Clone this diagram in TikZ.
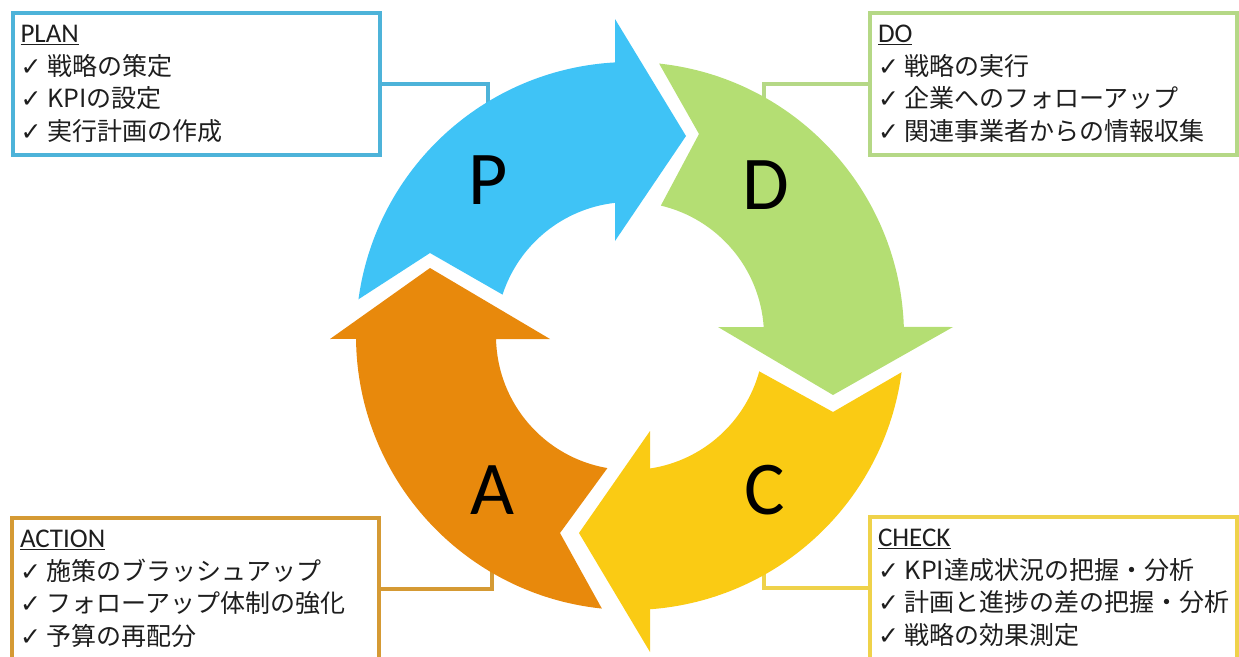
\documentclass[tikz,border=0pt]{standalone}
\usepackage{fontspec}
\setmainfont{Carlito}
\newfontfamily\jpfont{Noto Sans CJK JP}
\newfontfamily\symfont{DejaVu Sans}

\definecolor{pfill}{HTML}{3FC3F6}
\definecolor{dfill}{HTML}{B4DE73}
\definecolor{cfill}{HTML}{FACB14}
\definecolor{afill}{HTML}{E8890C}
\definecolor{planline}{HTML}{4DB3D9}
\definecolor{doline}{HTML}{B5D886}
\definecolor{checkline}{HTML}{EFD24A}
\definecolor{actionline}{HTML}{D59A34}
\definecolor{ink}{HTML}{1E1E1E}

\tikzset{
  box/.style={line width=4pt, fill=white, minimum width=367pt, minimum height=142pt,
    inner sep=0pt, text width=351pt, align=left, text=ink,
    font=\jpfont\fontsize{25}{32.5}\selectfont},
  link/.style={line width=3.5pt},
  letter/.style={font=\fontsize{76}{80}\selectfont, text=black},
}

\newcommand{\ckm}{{\symfont\bfseries\fontsize{25}{25}\selectfont ✓}\kern6pt}
\newcommand{\boxlabel}[1]{{\rmfamily\fontsize{27}{27}\selectfont\underline{#1}}}

\begin{document}
\begin{tikzpicture}[x=1pt, y=1pt]
\useasboundingbox (0,0) rectangle (1239,-656);

% boxes
\node [box, draw=planline] (0) at (196,-84) {\boxlabel{PLAN}\\
\ckm 戦略の策定\\
\ckm KPIの設定\\
\ckm 実行計画の作成};
\node [box, draw=doline] (1) at (1053.5,-84) {\boxlabel{DO}\\
\ckm 戦略の実行\\
\ckm 企業へのフォローアップ\\
\ckm 関連事業者からの情報収集};
\node [box, draw=checkline] (2) at (1053.5,-588) {\boxlabel{CHECK}\\
\ckm KPI達成状況の把握・分析\\
\ckm 計画と進捗の差の把握・分析\\
\ckm 戦略の効果測定};
\node [box, draw=actionline] (3) at (195.5,-589) {\boxlabel{ACTION}\\
\ckm 施策のブラッシュアップ\\
\ckm フォローアップ体制の強化\\
\ckm 予算の再配分};

\node [] (4) at (488,-125) {};
\node [] (5) at (764,-125) {};
\node [] (6) at (764,-545) {};
\node [] (7) at (492,-545) {};

\draw [link, planline] (0.east) -| (4.center);
\draw [link, doline] (1.west) -| (5.center);
\draw [link, checkline] (2.west) -| (6.center);
\draw [link, actionline] (3.east) -| (7.center);

% cycle arrows
\begin{scope}[shift={(630,-336)}]
\fill [pfill] (172.3:274) arc [start angle=172.3, end angle=93.1, radius=274]
  -- (-15,317) -- (56,200) -- (-15,95) -- (96.4:134)
  arc [start angle=96.4, end angle=162, radius=134] -- (-200,83) -- cycle;
\fill [dfill] (83.9:274) arc [start angle=83.9, end angle=1.9, radius=274]
  -- (323,9) -- (203,-59) -- (88,9) -- (3.85:134)
  arc [start angle=3.85, end angle=76.7, radius=134] -- (69,202) -- cycle;
\fill [cfill] (-7.6:274) arc [start angle=-7.6, end angle=-85.8, radius=274]
  -- (20,-316) -- (-51,-197) -- (20,-95) -- (-81.4:134)
  arc [start angle=-81.4, end angle=-15.3, radius=134] -- (203,-76) -- cycle;
\fill [afill] (264.1:274) arc [start angle=264.1, end angle=180.6, radius=274]
  -- (-300,-3) -- (-200,68) -- (-80,-3) -- (181.3:134)
  arc [start angle=181.3, end angle=260.3, radius=134] -- (-70,-197) -- cycle;
\end{scope}

\node [letter] (8) at (488,-180) {P};
\node [letter] (9) at (766,-185) {D};
\node [letter] (10) at (765,-490) {C};
\node [letter] (11) at (492,-490) {A};
\end{tikzpicture}
\end{document}
